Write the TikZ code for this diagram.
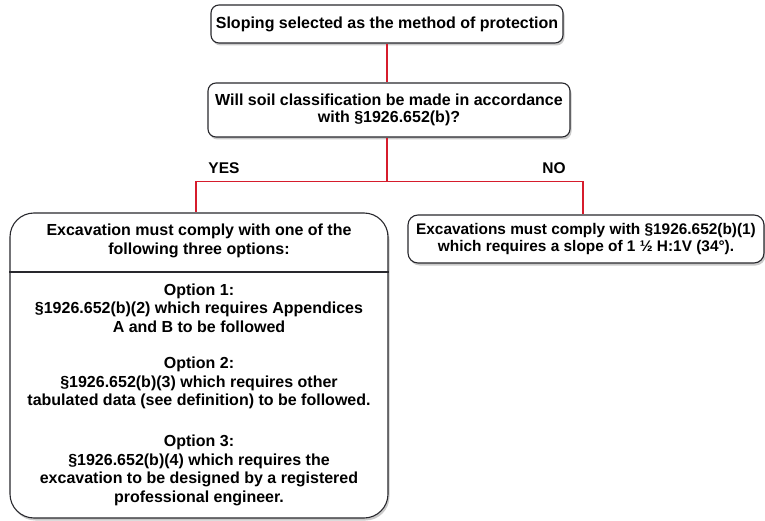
\documentclass[tikz,border=0pt]{standalone}
\usepackage{fontspec}
\setmainfont{Liberation Sans}
\usetikzlibrary{shadows}
\definecolor{linkred}{RGB}{214,28,44}
\definecolor{boxline}{RGB}{40,40,45}
\tikzset{
  box/.style={draw=boxline, line width=1.1pt, fill=white, rounded corners=8pt,
    drop shadow={shadow xshift=1.5pt, shadow yshift=-2.5pt, fill=black!35, opacity=0.6},
    inner sep=0pt, align=center, font=\bfseries\fontsize{16}{17.5}\selectfont},
  txt/.style={align=center, inner sep=0pt, font=\bfseries\fontsize{16}{18.4}\selectfont},
  link/.style={draw=linkred, line width=1.3pt},
  lbl/.style={inner sep=0pt, font=\bfseries\fontsize{15.5}{16}\selectfont}
}
\begin{document}
\begin{tikzpicture}[x=1pt,y=1pt]
\useasboundingbox (0,0) rectangle (765,-521);
% boxes
\node[box, minimum width=352pt, minimum height=38pt] (b1) at (387,-24) {Sloping selected as the method of protection};
\node[box, minimum width=362pt, minimum height=54pt] (b2) at (389,-110) {Will soil classification be made in accordance\\with §1926.652(b)?};
\node[box, rounded corners=24pt, minimum width=378pt, minimum height=305pt] (b3) at (199,-365.5) {};
\node[box, rounded corners=10pt, minimum width=356pt, minimum height=48pt,
  font=\bfseries\fontsize{15.4}{17.5}\selectfont] (b4) at (586,-239) {Excavations must comply with §1926.652(b)(1)\\which requires a slope of 1 ½ H:1V (34°).};
% box 3 contents
\draw[draw=boxline, line width=1.1pt] (b3.west |- 0,-272) -- (b3.east |- 0,-272);
\node[txt] (t3a) at (199,-241) {Excavation must comply with one of the\\following three options:};
\node[txt] (t3b) at (199,-308) {Option 1:\\§1926.652(b)(2) which requires Appendices\\A and B to be followed};
\node[txt] (t3c) at (199,-383) {Option 2:\\§1926.652(b)(3) which requires other\\tabulated data (see definition) to be followed.};
\node[txt, font=\bfseries\fontsize{16}{18.7}\selectfont] (t3d) at (199,-470.5) {Option 3:\\§1926.652(b)(4) which requires the\\excavation to be designed by a registered\\professional engineer.};
% connectors
\coordinate (j) at (387,-181.5);
\coordinate (jl) at (196,-181.5);
\coordinate (jr) at (583,-181.5);
\draw[link] (b1.south) -- (b1.south |- b2.north);
\draw[link] (b2.south -| j) -- (j);
\draw[link] (jl) -- (jr);
\draw[link] (jl) -- (jl |- b3.north);
\draw[link] (jr) -- (jr |- b4.north);
\node[lbl] (yes) at (224,-168) {YES};
\node[lbl] (no) at (554,-168) {NO};
\end{tikzpicture}
\end{document}
